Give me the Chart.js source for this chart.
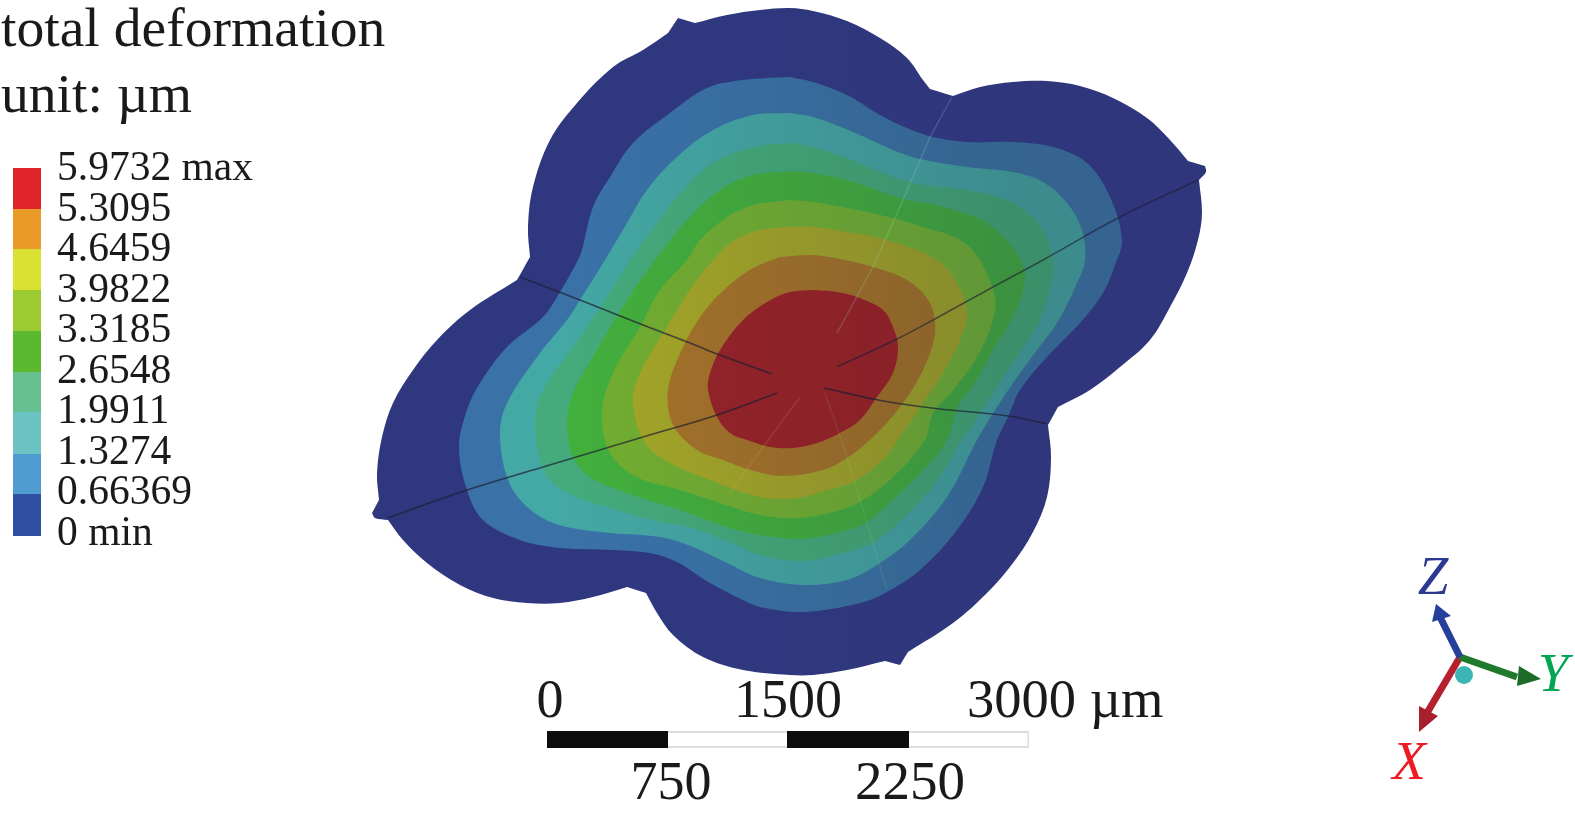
<!DOCTYPE html>
<html>
<head>
<meta charset="utf-8">
<title>total deformation</title>
<script src="https://cdn.jsdelivr.net/npm/chart.js@4"></script>
<style>
  html, body { margin: 0; padding: 0; background: #fff; overflow: hidden; }
  canvas { display: block; }
</style>
</head>
<body>
<canvas id="myChart" width="1575" height="817"></canvas>
<script>
// contour bands, outermost first
// a repeated point keeps a sharp corner in the curve
var bandNavy = [[678,18],[678,18],[695,23],[695,23],[727,15],[760,10],[790,8],[813,11],[847,21],[880,38],[907,58],[923,80],[930,89],[930,89],[953,96],[953,96],[980,87],[1013,82],[1047,81],[1080,86],[1113,98],[1147,118],[1170,140],[1188,161],[1188,161],[1205,166],[1205,166],[1206,172],[1199,180],[1199,180],[1202,213],[1198,240],[1187,273],[1170,307],[1150,340],[1120,367],[1090,390],[1058,407],[1058,407],[1048,425],[1048,425],[1051,457],[1047,497],[1033,532],[1013,563],[987,593],[953,623],[908,652],[908,652],[900,665],[900,665],[885,661],[885,661],[847,670],[813,675],[790,675],[743,670],[703,657],[673,635],[657,613],[646,593],[646,593],[627,587],[627,587],[593,597],[560,603],[527,603],[493,598],[460,585],[427,563],[403,540],[388,520],[388,520],[375,518],[372,513],[372,513],[379,500],[379,500],[377,473],[382,437],[393,403],[413,370],[437,340],[470,310],[517,280],[517,280],[530,257],[530,257],[528,227],[533,187],[550,140],[577,103],[613,67],[643,50],[668,33],[668,33],[678,18]];
var bandBlue = [[790,77],[813,82],[847,95],[880,115],[907,128],[933,137],[967,142],[1013,142],[1053,147],[1087,163],[1110,197],[1122,240],[1115,265],[1103,293],[1080,323],[1047,357],[1020,390],[1008,417],[997,440],[983,487],[957,530],[920,570],[887,592],[860,603],[803,612],[760,607],[743,600],[710,583],[677,562],[650,553],[613,550],[560,548],[520,540],[483,520],[467,490],[459,447],[467,410],[480,383],[507,347],[543,317],[560,292],[578,260],[582,250],[593,207],[610,177],[633,143],[670,113],[707,88],[743,80],[790,77]];
var bandCyan = [[790,113],[813,117],[853,132],[893,150],[920,159],[967,167],[1013,172],[1043,182],[1067,203],[1082,230],[1085,260],[1077,283],[1057,323],[1037,350],[1013,383],[992,415],[977,440],[947,497],[910,540],[877,565],[847,580],[803,585],[760,578],[727,563],[693,547],[660,537],[600,532],[553,523],[523,503],[507,477],[500,433],[507,403],[540,353],[567,320],[580,300],[605,260],[627,223],[647,190],[677,157],[713,130],[753,115],[790,113]];
var bandTeal = [[790,143],[813,147],[847,158],[880,172],[913,183],[967,190],[1007,200],[1033,217],[1047,237],[1053,260],[1052,280],[1040,320],[1020,353],[1000,383],[978,417],[960,443],[940,477],[907,515],[873,543],[843,553],[803,561],[760,555],[743,548],[693,528],[660,522],[610,508],[567,493],[545,473],[535,423],[543,390],[573,347],[603,303],[630,260],[657,223],[683,190],[713,163],[753,147],[790,143]];
var bandGreen = [[790,171],[813,173],[847,180],[897,197],[947,208],[987,223],[1018,255],[1025,280],[1013,317],[993,350],[977,380],[958,407],[947,440],[930,463],[900,493],[867,522],[840,532],[803,539],[760,535],[727,527],[680,510],[627,493],[590,477],[573,457],[567,423],[573,393],[597,350],[627,300],[655,260],[690,217],[720,190],[753,175],[790,171]];
var bandLime = [[790,200],[813,202],[847,208],[893,218],[923,227],[960,240],[980,260],[995,297],[993,320],[977,357],[953,390],[933,413],[925,440],[893,477],[860,502],[833,512],[797,518],[760,515],[720,503],[680,490],[637,477],[610,453],[602,413],[613,373],[640,327],[660,290],[687,260],[700,240],[727,217],[753,205],[790,200]];
var bandYellow = [[790,227],[813,227],[847,232],[887,240],[937,260],[957,283],[967,313],[960,340],[943,373],[923,403],[900,437],[883,460],[853,482],[827,490],[797,498],[760,497],[710,480],[670,463],[645,443],[633,403],[640,373],[667,327],[693,285],[717,256],[735,240],[760,230],[790,227]];
var bandOrange = [[780,257],[813,255],[840,259],[873,267],[907,280],[930,303],[935,333],[923,370],[900,407],[873,437],[847,458],[823,470],[783,476],[750,470],[723,460],[697,450],[673,425],[668,390],[683,347],[703,313],[727,287],[753,268],[780,257]];
var bandRed = [[815,290],[837,292],[857,297],[883,310],[893,327],[898,347],[893,373],[877,397],[860,420],[840,433],[817,443],[793,448],[770,447],[747,440],[730,433],[717,417],[708,390],[710,373],[720,350],[743,320],[767,302],[790,292],[815,290]];

// dark and faint spokes on the surface
var spokeA = [[520,277],[580,300],[643,325],[690,343],[720,355],[772,374]];
var spokeB = [[388,518],[467,490],[543,467],[643,437],[717,415],[777,393]];
var spokeC = [[837,367],[897,339],[933,320],[993,287],[1043,260],[1120,217],[1198,180]];
var spokeD = [[824,388],[873,399],[902,404],[940,409],[1008,416],[1047,424]];
var faintE = [[952,97],[930,137],[903,200],[873,267],[837,333]];
var faintF = [[825,393],[848,460],[887,590]];
var faintG = [[800,397],[763,447],[730,493]];

// colour legend
var legendLabels = ["5.9732 max","5.3095","4.6459","3.9822","3.3185","2.6548","1.9911","1.3274","0.66369","0 min"];
var legendEdges = [168,209,249,290,331,372,412,454,494,536];
var legendColors = ["#e0252a","#ea9a26","#dbe132","#9bcb30","#5cb82f","#66bf8e","#6cc3c3","#4f9dd0","#2f4fa2"];

// scale bar
var scaleTop = ["0","1500","3000 \u00b5m"];
var scaleBottom = ["750","2250"];
var scaleEdges = [547,668,787,909,1029];

// triad
var axisZ = [[1460,657],[1438,613]];
var axisY = [[1460,657],[1517,677]];
var axisX = [[1460,657],[1427,713]];
var headZ = [[1436,604],[1451,616],[1432,622],[1436,604]];
var headY = [[1541,679],[1517,686],[1519,666],[1541,679]];
var headX = [[1419,732],[1419,706],[1438,716],[1419,732]];
var triadBall = [[1464,675]];

function shade(ctx, left, right) {
  var g = ctx.createLinearGradient(560, 0, 1020, 0);
  g.addColorStop(0, left);
  g.addColorStop(1, right);
  return g;
}

function area(points, color, tension) {
  return {
    data: points, showLine: true, fill: 'shape', backgroundColor: color,
    borderWidth: 0, pointRadius: 0, tension: tension
  };
}

function stroke(points, color, width, tension) {
  return {
    data: points, showLine: true, fill: false, borderColor: color,
    borderWidth: width, borderCapStyle: 'butt', pointRadius: 0, tension: tension || 0
  };
}

// text labels, placed through the chart scales
var labelPlugin = {
  id: 'labels',
  afterDraw: function (chart) {
    var c = chart.ctx, sx = chart.scales.x, sy = chart.scales.y;
    function put(text, x, y, font, color, align) {
      c.font = font;
      c.fillStyle = color || '#1c191a';
      c.textAlign = align || 'left';
      c.textBaseline = 'alphabetic';
      c.fillText(text, sx.getPixelForValue(x), sy.getPixelForValue(y));
    }
    c.save();
    var serif = '"Liberation Serif"';
    put('total deformation', 1, 46, '55.6px ' + serif);
    put('unit: \u00b5m', 1, 112, '55.6px ' + serif);
    for (var i = 0; i < legendLabels.length; i++) {
      put(legendLabels[i], 57, 180 + i * 40.5, '41.5px ' + serif);
    }
    put(scaleTop[0], 550, 717, '54px ' + serif, null, 'center');
    put(scaleTop[1], 788, 717, '54px ' + serif, null, 'center');
    put(scaleTop[2], 967, 717, '54.5px ' + serif);
    put(scaleBottom[0], 671, 799, '54px ' + serif, null, 'center');
    put(scaleBottom[1], 910, 799, '55px ' + serif, null, 'center');
    put('Z', 1433, 594, 'italic 55px ' + serif, '#2b3990', 'center');
    put('Y', 1553, 691, 'italic 55px ' + serif, '#00a651', 'center');
    put('X', 1409, 779, 'italic 55px ' + serif, '#ed1c24', 'center');
    c.restore();
  }
};

function init() {
  var ctx = document.getElementById('myChart').getContext('2d');
  var datasets = [];

  // first dataset is drawn last
  datasets.push({ data: triadBall, pointRadius: 9, pointBackgroundColor: '#3db5b5', pointBorderWidth: 0, showLine: false });
  datasets.push(area(headZ, '#24409a', 0));
  datasets.push(area(headY, '#1c6b28', 0));
  datasets.push(area(headX, '#a81f2d', 0));
  datasets.push(stroke(axisZ, '#24409a', 7));
  datasets.push(stroke(axisY, '#1f7a2c', 7));
  datasets.push(stroke(axisX, '#b5202f', 7));

  // scale bar
  datasets.push(stroke([[scaleEdges[0], 739.5], [scaleEdges[1], 739.5]], '#0d0d0d', 17));
  datasets.push(stroke([[scaleEdges[2], 739.5], [scaleEdges[3], 739.5]], '#0d0d0d', 17));
  datasets.push(stroke([[scaleEdges[0], 739.5], [scaleEdges[4] - 1.5, 739.5]], '#ffffff', 13));
  datasets.push(stroke([[scaleEdges[0], 739.5], [scaleEdges[4], 739.5]], '#dcdcdc', 17));

  // legend colour bar
  legendColors.forEach(function (color, i) {
    datasets.push(stroke([[27, legendEdges[i]], [27, legendEdges[i + 1]]], color, 28));
  });

  // spokes
  datasets.push(stroke(spokeA, 'rgba(30,30,50,0.7)', 1.6, 0.4));
  datasets.push(stroke(spokeB, 'rgba(30,30,50,0.7)', 1.6, 0.4));
  datasets.push(stroke(spokeC, 'rgba(30,30,50,0.6)', 1.6, 0.4));
  datasets.push(stroke(spokeD, 'rgba(30,30,50,0.7)', 1.6, 0.4));
  datasets.push(stroke(faintE, 'rgba(150,220,190,0.22)', 1.5));
  datasets.push(stroke(faintF, 'rgba(150,220,150,0.12)', 1.5));
  datasets.push(stroke(faintG, 'rgba(230,180,90,0.16)', 1.5));

  // contour bands, innermost first
  datasets.push(area(bandRed, shade(ctx, '#95232a', '#872128'), 0.35));
  datasets.push(area(bandOrange, shade(ctx, '#a8752a', '#86602a'), 0.35));
  datasets.push(area(bandYellow, shade(ctx, '#a6a827', '#85892c'), 0.35));
  datasets.push(area(bandLime, shade(ctx, '#73ae30', '#609637'), 0.35));
  datasets.push(area(bandGreen, shade(ctx, '#43b03c', '#3b913f'), 0.35));
  datasets.push(area(bandTeal, shade(ctx, '#45ab7c', '#3b8f6b'), 0.35));
  datasets.push(area(bandCyan, shade(ctx, '#44a8a4', '#3c8c8e'), 0.35));
  datasets.push(area(bandBlue, shade(ctx, '#3a72a8', '#34648f'), 0.35));
  datasets.push(area(bandNavy, shade(ctx, '#2f387f', '#2f367c'), 0.35));

  new Chart(ctx, {
    type: 'scatter',
    data: { datasets: datasets },
    plugins: [labelPlugin],
    options: {
      responsive: false,
      animation: false,
      devicePixelRatio: 1,
      layout: { padding: 0, autoPadding: false },
      events: [],
      plugins: { legend: { display: false }, tooltip: { enabled: false } },
      scales: {
        x: { type: 'linear', display: false, min: 0, max: 1575 },
        y: { type: 'linear', display: false, min: 0, max: 817, reverse: true }
      }
    }
  });
}

init();
</script>
</body>
</html>
